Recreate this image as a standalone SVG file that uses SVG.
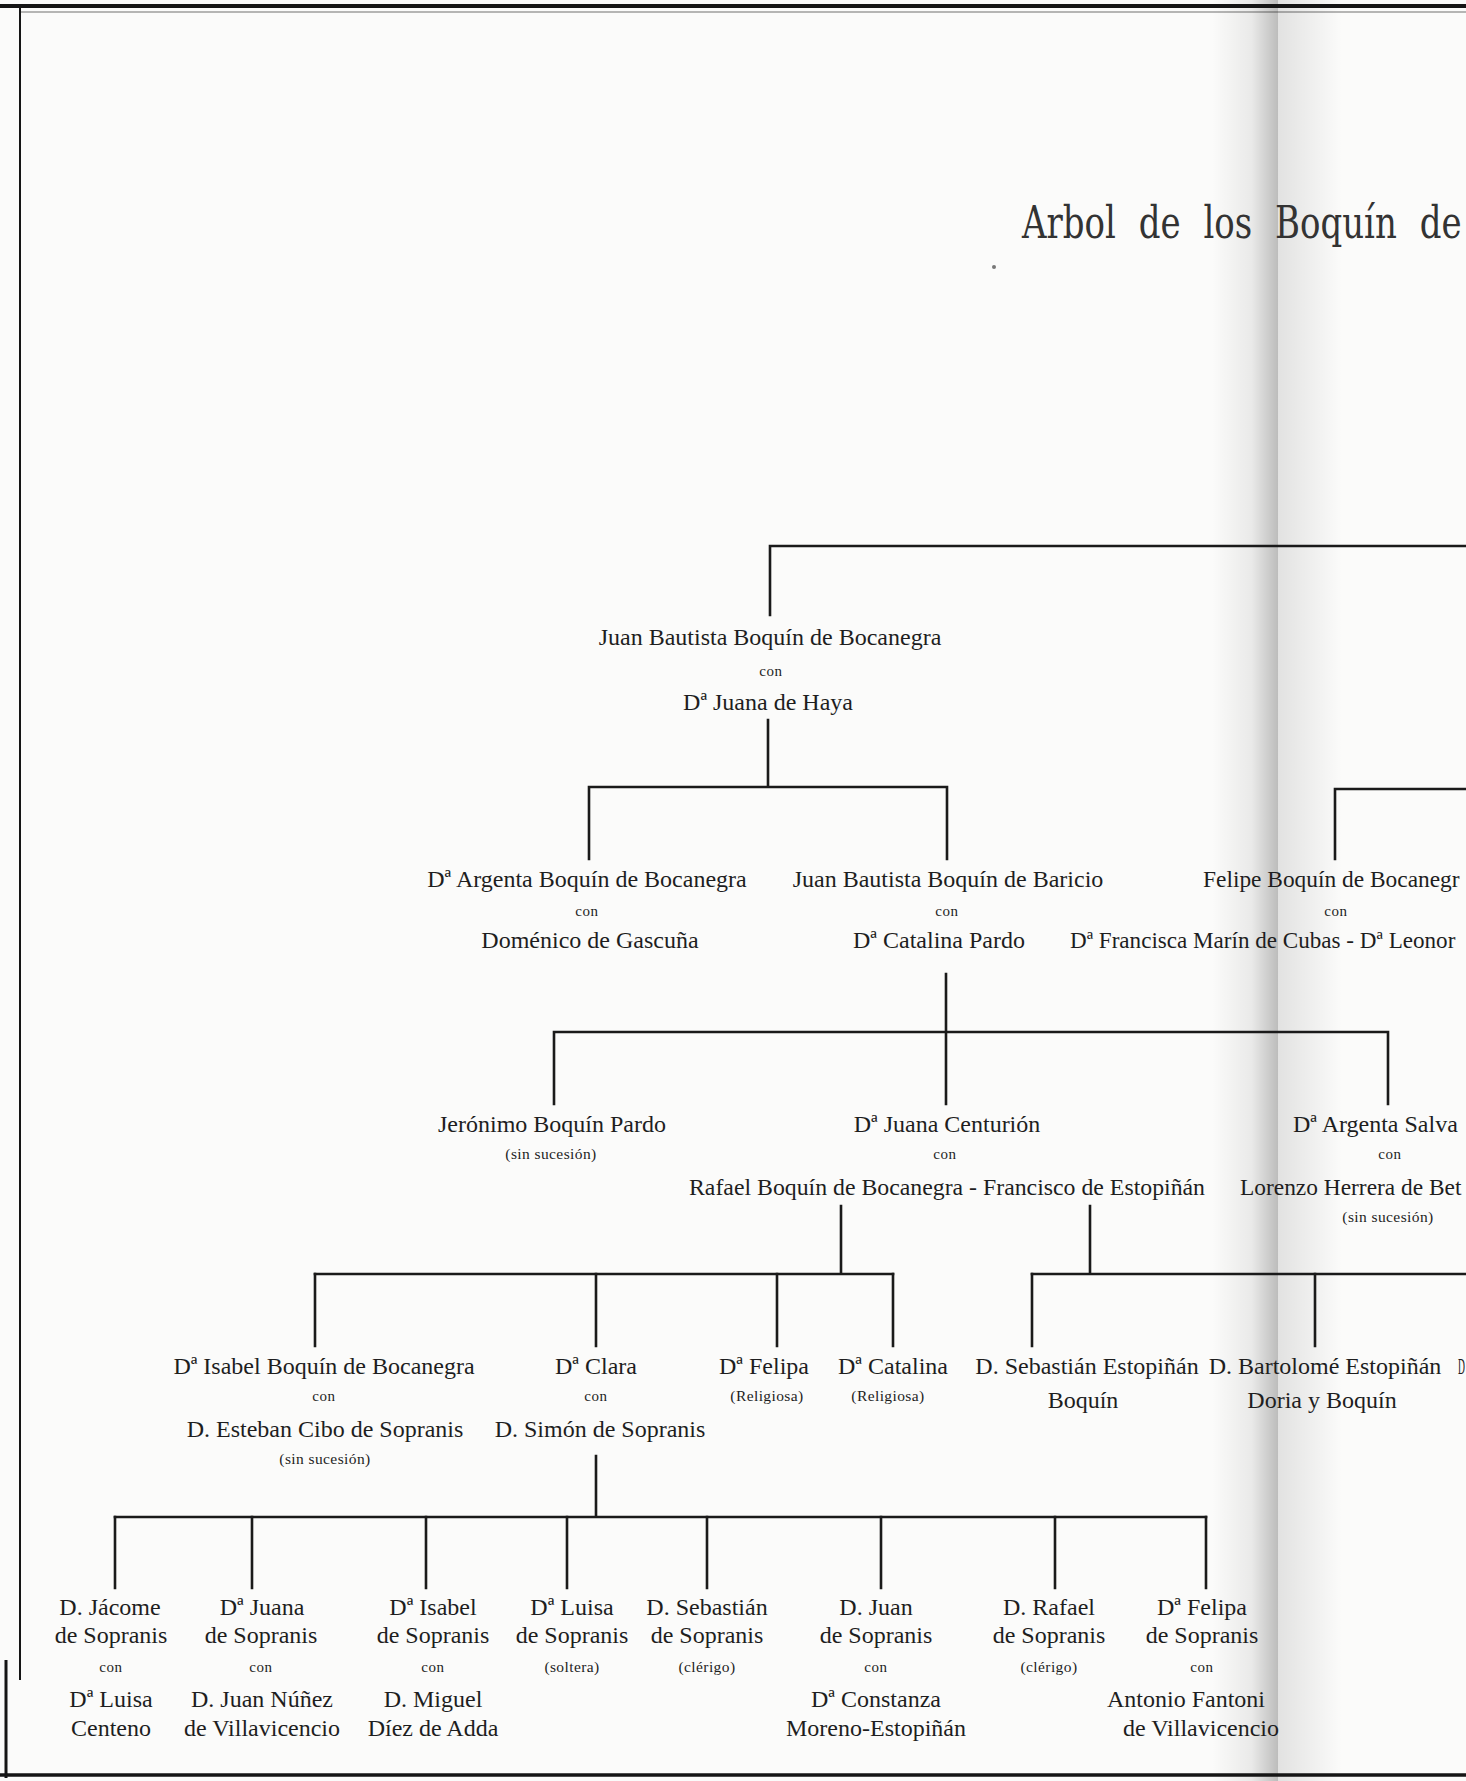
<svg xmlns="http://www.w3.org/2000/svg" width="1466" height="1781" viewBox="0 0 1466 1781">
<defs>
<linearGradient id="gutL" x1="0" y1="0" x2="1" y2="0">
<stop offset="0" stop-color="#000" stop-opacity="0"/>
<stop offset="0.6" stop-color="#000" stop-opacity="0.07"/>
<stop offset="1" stop-color="#000" stop-opacity="0.25"/>
</linearGradient>
<linearGradient id="gutR" x1="0" y1="0" x2="1" y2="0">
<stop offset="0" stop-color="#000" stop-opacity="0.10"/>
<stop offset="1" stop-color="#000" stop-opacity="0"/>
</linearGradient>
<style>
.n{font-family:"Liberation Serif","DejaVu Serif",serif;font-size:24px;fill:#1e1e1e;text-anchor:middle}
.s{text-anchor:start}
.c{font-size:15px;letter-spacing:0.6px}
.p{font-size:15.5px;letter-spacing:0.4px}
.t{font-family:"DejaVu Serif","Liberation Serif",serif;font-size:45px;fill:#333;word-spacing:16px}
.ln{stroke:#1a1a1a;stroke-width:2.6;fill:none;stroke-linecap:square}
.bd{stroke:#151515;fill:none}
</style>
</defs>
<rect x="0" y="0" width="1466" height="1781" fill="#fbfbfa"/>
<rect x="1212" y="0" width="66" height="1781" fill="url(#gutL)"/>
<rect x="1278" y="0" width="64" height="1781" fill="url(#gutR)"/>

<g id="page-border">
<line class="bd" x1="0" y1="6" x2="1466" y2="6" stroke-width="4"/>
<line class="bd" x1="20" y1="12" x2="1466" y2="12" stroke-width="1.2" stroke-opacity="0.6"/>
<line class="bd" x1="20" y1="8" x2="20" y2="1680" stroke-width="2"/>
<line class="bd" x1="6" y1="1660" x2="6" y2="1778" stroke-width="3"/>
<line class="bd" x1="0" y1="1775" x2="1466" y2="1775" stroke-width="3.5"/>
</g>

<g id="title">
<text class="t" transform="translate(1022,238) scale(0.755,1)" x="0" y="0">Arbol de los Boquín de</text>
<circle cx="994" cy="267" r="2" fill="#777"/>
</g>

<g id="connectors">
<path class="ln" d="M770,546 H1470 M770,546 V615"/>
<path class="ln" d="M768,720 V787 M589,787 H947 M589,787 V859 M947,787 V859"/>
<path class="ln" d="M1335,789 H1470 M1335,789 V859"/>
<path class="ln" d="M946,974 V1032 M554,1032 H1388 M554,1032 V1104 M946,1032 V1104 M1388,1032 V1104"/>
<path class="ln" d="M841,1206 V1274 M1090,1206 V1274 M315,1274 H893 M1032,1274 H1470"/>
<path class="ln" d="M315,1274 V1346 M596,1274 V1346 M777,1274 V1346 M893,1274 V1346 M1032,1274 V1346 M1315,1274 V1346"/>
<path class="ln" d="M596,1456 V1517 M115,1517 H1206"/>
<path class="ln" d="M115,1517 V1588 M252,1517 V1588 M426,1517 V1588 M567,1517 V1588 M707,1517 V1588 M881,1517 V1588 M1055,1517 V1588 M1206,1517 V1588"/>
</g>

<g id="n-juan-bautista-bocanegra">
<text class="n" x="770" y="645">Juan Bautista Boquín de Bocanegra</text>
<text class="n c" x="771" y="676">con</text>
<text class="n" x="768" y="710">Dª Juana de Haya</text>
</g>

<g id="n-argenta-boquin">
<text class="n" x="587" y="887">Dª Argenta Boquín de Bocanegra</text>
<text class="n c" x="587" y="916">con</text>
<text class="n" x="590" y="948">Doménico de Gascuña</text>
</g>

<g id="n-juan-bautista-baricio">
<text class="n" x="948" y="887">Juan Bautista Boquín de Baricio</text>
<text class="n c" x="947" y="916">con</text>
<text class="n" x="939" y="948">Dª Catalina Pardo</text>
</g>

<g id="n-felipe-boquin">
<text class="n s" x="1203" y="887" style="font-size:23.4px">Felipe Boquín de Bocanegr</text>
<text class="n c" x="1336" y="916">con</text>
<text class="n s" x="1070" y="948" style="font-size:23.1px">Dª Francisca Marín de Cubas - Dª Leonor</text>
</g>

<g id="n-jeronimo">
<text class="n" x="552" y="1132">Jerónimo Boquín Pardo</text>
<text class="n p" x="551" y="1159">(sin sucesión)</text>
</g>

<g id="n-juana-centurion">
<text class="n" x="947" y="1132">Dª Juana Centurión</text>
<text class="n c" x="945" y="1159">con</text>
<text class="n" x="947" y="1195" textLength="516" lengthAdjust="spacingAndGlyphs">Rafael Boquín de Bocanegra - Francisco de Estopiñán</text>
</g>

<g id="n-argenta-salvago">
<text class="n s" x="1293" y="1132">Dª Argenta Salva</text>
<text class="n c" x="1390" y="1159">con</text>
<text class="n s" x="1240" y="1195" style="font-size:23.4px">Lorenzo Herrera de Bet</text>
<text class="n p" x="1388" y="1222">(sin sucesión)</text>
</g>

<g id="n-isabel-boquin">
<text class="n" x="324" y="1374">Dª Isabel Boquín de Bocanegra</text>
<text class="n c" x="324" y="1401">con</text>
<text class="n" x="325" y="1437">D. Esteban Cibo de Sopranis</text>
<text class="n p" x="325" y="1464">(sin sucesión)</text>
</g>

<g id="n-clara">
<text class="n" x="596" y="1374">Dª Clara</text>
<text class="n c" x="596" y="1401">con</text>
<text class="n" x="600" y="1437">D. Simón de Sopranis</text>
</g>

<g id="n-felipa">
<text class="n" x="764" y="1374">Dª Felipa</text>
<text class="n p" x="767" y="1401">(Religiosa)</text>
</g>

<g id="n-catalina">
<text class="n" x="893" y="1374">Dª Catalina</text>
<text class="n p" x="888" y="1401">(Religiosa)</text>
</g>

<g id="n-sebastian-estopinan">
<text class="n" x="1087" y="1374">D. Sebastián Estopiñán</text>
<text class="n" x="1083" y="1408">Boquín</text>
</g>

<g id="n-bartolome-estopinan">
<text class="n" x="1325" y="1374">D. Bartolomé Estopiñán</text>
<text class="n" x="1322" y="1408">Doria y Boquín</text>
</g>

<g id="n-cut-right">
<text class="n s" transform="translate(1458,1374) scale(0.4,1)" x="0" y="0">D</text>
</g>

<g id="n-jacome">
<text class="n" x="110" y="1615">D. Jácome</text>
<text class="n" x="111" y="1643">de Sopranis</text>
<text class="n c" x="111" y="1672">con</text>
<text class="n" x="111" y="1707">Dª Luisa</text>
<text class="n" x="111" y="1736">Centeno</text>
</g>

<g id="n-juana-sopranis">
<text class="n" x="262" y="1615">Dª Juana</text>
<text class="n" x="261" y="1643">de Sopranis</text>
<text class="n c" x="261" y="1672">con</text>
<text class="n" x="262" y="1707">D. Juan Núñez</text>
<text class="n" x="262" y="1736">de Villavicencio</text>
</g>

<g id="n-isabel-sopranis">
<text class="n" x="433" y="1615">Dª Isabel</text>
<text class="n" x="433" y="1643">de Sopranis</text>
<text class="n c" x="433" y="1672">con</text>
<text class="n" x="433" y="1707">D. Miguel</text>
<text class="n" x="433" y="1736">Díez de Adda</text>
</g>

<g id="n-luisa-sopranis">
<text class="n" x="572" y="1615">Dª Luisa</text>
<text class="n" x="572" y="1643">de Sopranis</text>
<text class="n p" x="572" y="1672">(soltera)</text>
</g>

<g id="n-sebastian-sopranis">
<text class="n" x="707" y="1615">D. Sebastián</text>
<text class="n" x="707" y="1643">de Sopranis</text>
<text class="n p" x="707" y="1672">(clérigo)</text>
</g>

<g id="n-juan-sopranis">
<text class="n" x="876" y="1615">D. Juan</text>
<text class="n" x="876" y="1643">de Sopranis</text>
<text class="n c" x="876" y="1672">con</text>
<text class="n" x="876" y="1707">Dª Constanza</text>
<text class="n" x="876" y="1736">Moreno-Estopiñán</text>
</g>

<g id="n-rafael-sopranis">
<text class="n" x="1049" y="1615">D. Rafael</text>
<text class="n" x="1049" y="1643">de Sopranis</text>
<text class="n p" x="1049" y="1672">(clérigo)</text>
</g>

<g id="n-felipa-sopranis">
<text class="n" x="1202" y="1615">Dª Felipa</text>
<text class="n" x="1202" y="1643">de Sopranis</text>
<text class="n c" x="1202" y="1672">con</text>
<text class="n" x="1186" y="1707">Antonio Fantoni</text>
<text class="n" x="1201" y="1736">de Villavicencio</text>
</g>
</svg>
